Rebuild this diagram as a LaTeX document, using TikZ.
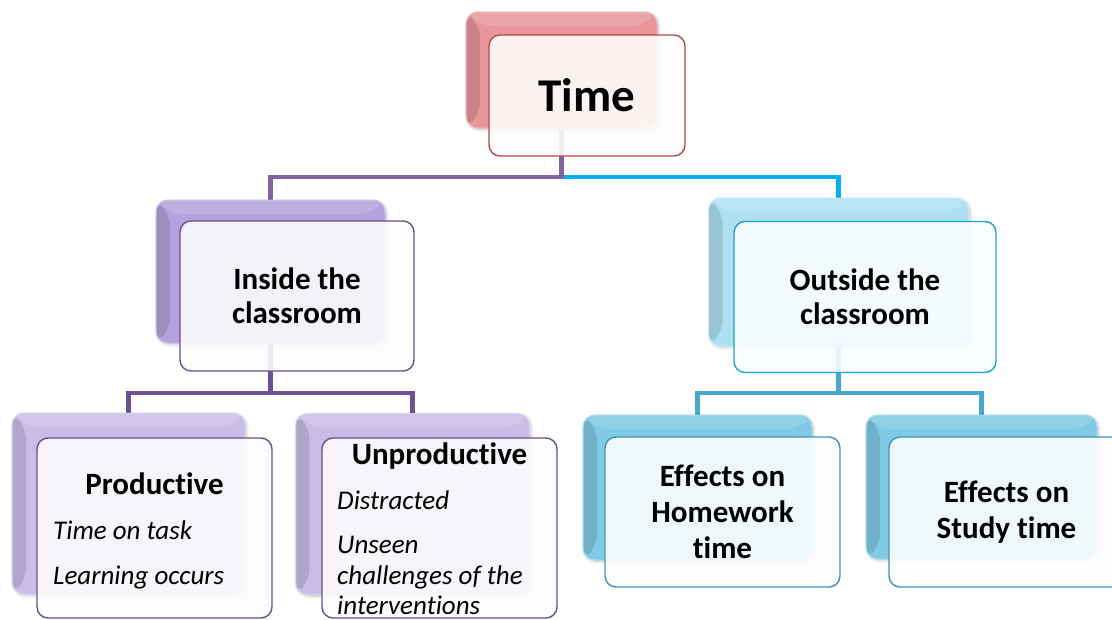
\documentclass[tikz,border=0pt]{standalone}
\usepackage{fontspec}
\setmainfont{Carlito}[Ligatures=NoCommon]
\usetikzlibrary{calc,shadows.blur}
\pgfdeclarelayer{links}
\pgfsetlayers{links,main}

% palette
\definecolor{timeback}{HTML}{E8969A}
\definecolor{timeedge}{HTML}{B3474C}
\definecolor{inback}{HTML}{B3A2DB}
\definecolor{inlow}{HTML}{C9BDE7}
\definecolor{inedge}{HTML}{6A4F91}
\definecolor{outback}{HTML}{AEE0F2}
\definecolor{outlow}{HTML}{80CAE5}
\definecolor{outedge}{HTML}{1BA3D3}
\definecolor{lowedge}{HTML}{3E94B6}
\definecolor{linkpurple}{HTML}{8064A2}
\definecolor{linkpurpledark}{HTML}{6C5293}
\definecolor{linkblue}{HTML}{00B0F0}
\definecolor{linkteal}{HTML}{47A9CF}

\tikzset{
  bevel/.style={path picture={
    \fill[black,opacity=0.12] (path picture bounding box.north west) -- ++(14pt,-14pt)
      -- ($(path picture bounding box.south west)+(14pt,14pt)$)
      -- (path picture bounding box.south west) -- cycle;
    \fill[white,opacity=0.14] (path picture bounding box.north west) -- ++(14pt,-14pt)
      -- ($(path picture bounding box.north east)+(-14pt,-14pt)$)
      -- (path picture bounding box.north east) -- cycle;
  }},
  backbox/.style={rounded corners=12pt, fill=#1, draw=#1!70!white, line width=1pt,
    inner sep=0pt, bevel,
    blur shadow={shadow xshift=1.5pt, shadow yshift=-1.5pt, shadow blur radius=3pt, shadow opacity=25}},
  frontbox/.style={rounded corners=11pt, draw=#1, line width=1.4pt, fill=#1!2!white,
    fill opacity=0.9, text opacity=1, inner sep=0pt, align=center},
  link/.style={line width=4.5pt},
  toptext/.style={font=\fontsize{47}{56}\selectfont\bfseries},
  headtext/.style={font=\fontsize{31}{34}\selectfont\bfseries},
  lowtext/.style={font=\fontsize{31}{36}\selectfont\bfseries},
  titletext/.style={inner sep=0pt, font=\fontsize{31}{36}\selectfont\bfseries, anchor=base},
  notetext/.style={inner sep=0pt, font=\fontsize{27}{31}\selectfont\itshape, anchor=base west},
}

\begin{document}
\begin{tikzpicture}[x=1pt, y=-1pt]
\useasboundingbox (0,0) rectangle (1112,619);
\clip (0,0) rectangle (1112,619);

% top level
\node[backbox=timeback, minimum width=191pt, minimum height=116pt] (tb) at (561.5,70) {};
\node[frontbox=timeedge, toptext, minimum width=196pt, minimum height=121pt] (tf) at (587,95.5) {Time};

% second level
\node[backbox=inback, minimum width=229pt, minimum height=143pt] (ib) at (270.5,271.5) {};
\node[frontbox=inedge, headtext, minimum width=234pt, minimum height=150pt] (if) at (297,296) {Inside the\\classroom};

\node[backbox=outback, minimum width=260pt, minimum height=148pt] (ob) at (838.5,272) {};
\node[frontbox=outedge, headtext, minimum width=262pt, minimum height=151pt] (of) at (865,297) {Outside the\\classroom};

% third level, inside branch
\node[backbox=inlow, minimum width=233pt, minimum height=181pt] (pb) at (128.5,503.5) {};
\node[frontbox=inedge, minimum width=235pt, minimum height=180pt] (pf) at (154.5,528) {};
\node[titletext] (ptitle) at (154.5,494) {Productive};
\node[notetext] (pnote1) at (53,539) {Time on task};
\node[notetext] (pnote2) at (53,584) {Learning occurs};

\node[backbox=inlow, minimum width=234pt, minimum height=181pt] (ub) at (412.5,504) {};
\node[frontbox=inedge, minimum width=235pt, minimum height=180pt] (uf) at (439.5,528) {};
\node[titletext] (utitle) at (439.5,464) {Unproductive};
\node[notetext] (unote1) at (337,509) {Distracted};
\node[notetext] (unote2) at (337,553) {Unseen};
\node[notetext] (unote3) at (337,584) {challenges of the};
\node[notetext] (unote4) at (337,614) {interventions};

% third level, outside branch
\node[backbox=outlow, minimum width=229pt, minimum height=145pt] (hb) at (697.5,487.5) {};
\node[frontbox=lowedge, lowtext, minimum width=235pt, minimum height=150pt] (hf) at (722.5,512) {Effects on\\Homework\\time};

\node[backbox=outlow, minimum width=231pt, minimum height=144pt] (sb) at (981.5,487) {};
\node[frontbox=lowedge, lowtext, minimum width=235pt, minimum height=150pt] (sf) at (1006.5,512) {Effects on\\Study time};

% connectors, kept beneath the boxes
\coordinate (bus1) at (0,177);
\coordinate (bus2) at (0,393);
\begin{pgfonlayer}{links}
  \draw[link, linkblue] (tb.south) -- (tb.south |- bus1) -| (ob.north);
  \draw[link, linkpurple] (tb.south) -- (tb.south |- bus1) -| (ib.north);
  \draw[link, linkpurpledark] (ib.south) -- (ib.south |- bus2) -| (pb.north);
  \draw[link, linkpurpledark] (ib.south) -- (ib.south |- bus2) -| (ub.north);
  \draw[link, linkteal] (ob.south) -- (ob.south |- bus2) -| (hb.north);
  \draw[link, linkteal] (ob.south) -- (ob.south |- bus2) -| (sb.north);
\end{pgfonlayer}
\end{tikzpicture}
\end{document}
